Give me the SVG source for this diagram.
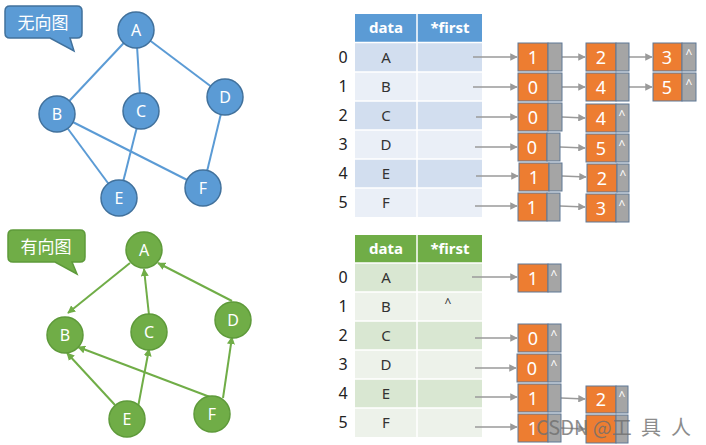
<svg xmlns="http://www.w3.org/2000/svg" width="706" height="445" viewBox="0 0 706 445">
<style>
text{font-family:"Noto Sans","Open Sans","Noto Sans CJK SC",sans-serif}
.bc{fill:#5B9BD5;stroke:#41719C;stroke-width:1.5}
.gc{fill:#70AD47;stroke:#5E9A3A;stroke-width:1.5}
.nl{fill:#fff;font-size:16px;text-anchor:middle}
.cl{fill:#fff;font-size:17px;text-anchor:middle;font-family:"Noto Sans CJK SC",sans-serif}
.be{stroke:#5B9BD5;stroke-width:2;fill:none}
.ge{stroke:#70AD47;stroke-width:2;fill:none}
.th{fill:#fff;font-size:15px;font-weight:bold;text-anchor:middle}
.td{fill:#333;font-size:15px;text-anchor:middle}
.ix{fill:#222;font-size:16px;text-anchor:middle}
.o{fill:#ED7D31;stroke:#5F7896;stroke-width:1}
.g{fill:#A5A5A5;stroke:#5F7896;stroke-width:1}
.d{fill:#fff;font-size:18px;text-anchor:middle}
.c{fill:#fff;font-size:12px;text-anchor:middle}
.pa{stroke:#9A9A9A;stroke-width:1.5;fill:none}
.wm{fill:#707070;opacity:0.8;font-size:20px;font-family:"Noto Sans CJK SC",sans-serif}
</style>
<defs>
<marker id="ga" viewBox="0 0 10 10" refX="9" refY="5" markerWidth="4" markerHeight="4" orient="auto" markerUnits="strokeWidth"><path d="M0,0 L10,5 L0,10 z" fill="#70AD47"/></marker>
<marker id="pa" viewBox="0 0 10 10" refX="9" refY="5" markerWidth="5" markerHeight="5" orient="auto" markerUnits="strokeWidth"><path d="M0,0 L10,5 L0,10 z" fill="#9A9A9A"/></marker>
</defs>
<rect width="706" height="445" fill="#fff"/>

<!-- Undirected graph -->
<g id="callout-undirected">
<path class="bc" d="M10,6 H77 Q82,6 82,11 V33 Q82,38 77,38 H70 L74,51 L50,38 H10 Q5,38 5,33 V11 Q5,6 10,6 Z"/>
<text class="cl" x="43" y="29">无向图</text>
</g>
<g id="undirected-edges">
<line class="be" x1="136" y1="30" x2="57" y2="114"/>
<line class="be" x1="136" y1="30" x2="141" y2="111"/>
<line class="be" x1="136" y1="30" x2="225" y2="97"/>
<line class="be" x1="57" y1="114" x2="119" y2="198"/>
<line class="be" x1="57" y1="114" x2="203" y2="188"/>
<line class="be" x1="141" y1="111" x2="119" y2="198"/>
<line class="be" x1="225" y1="97" x2="203" y2="188"/>
</g>
<g id="uA"><circle class="bc" cx="136" cy="30" r="18"/><text class="nl" x="136" y="36">A</text></g>
<g id="uB"><circle class="bc" cx="57" cy="114" r="18"/><text class="nl" x="57" y="120">B</text></g>
<g id="uC"><circle class="bc" cx="141" cy="111" r="18"/><text class="nl" x="141" y="117">C</text></g>
<g id="uD"><circle class="bc" cx="225" cy="97" r="18"/><text class="nl" x="225" y="103">D</text></g>
<g id="uE"><circle class="bc" cx="119" cy="198" r="18"/><text class="nl" x="119" y="204">E</text></g>
<g id="uF"><circle class="bc" cx="203" cy="188" r="18"/><text class="nl" x="203" y="194">F</text></g>

<!-- Directed graph -->
<g id="callout-directed">
<path class="gc" d="M13,230 H80 Q85,230 85,235 V257 Q85,262 80,262 H72 L77,274 L55,262 H13 Q8,262 8,257 V235 Q8,230 13,230 Z"/>
<text class="cl" x="46" y="253">有向图</text>
</g>
<g id="directed-edges">
<line class="ge" x1="130" y1="263" x2="68" y2="313" marker-end="url(#ga)"/>
<line class="ge" x1="149" y1="315" x2="144" y2="269" marker-end="url(#ga)"/>
<line class="ge" x1="232" y1="301" x2="158" y2="263" marker-end="url(#ga)"/>
<line class="ge" x1="115" y1="405" x2="67" y2="353" marker-end="url(#ga)"/>
<line class="ge" x1="138" y1="407" x2="149" y2="349" marker-end="url(#ga)"/>
<line class="ge" x1="210" y1="397" x2="78" y2="347" marker-end="url(#ga)"/>
<line class="ge" x1="223" y1="398" x2="232" y2="337" marker-end="url(#ga)"/>
</g>
<g id="dA"><circle class="gc" cx="144" cy="250" r="18"/><text class="nl" x="144" y="256">A</text></g>
<g id="dB"><circle class="gc" cx="65" cy="335" r="18"/><text class="nl" x="65" y="341">B</text></g>
<g id="dC"><circle class="gc" cx="149" cy="332" r="18"/><text class="nl" x="149" y="338">C</text></g>
<g id="dD"><circle class="gc" cx="233" cy="320" r="18"/><text class="nl" x="233" y="326">D</text></g>
<g id="dE"><circle class="gc" cx="127" cy="419" r="18"/><text class="nl" x="127" y="425">E</text></g>
<g id="dF"><circle class="gc" cx="212" cy="414" r="18"/><text class="nl" x="212" y="420">F</text></g>

<!-- Top table -->
<g id="table-undirected">
<rect x="355" y="14" width="127" height="28" fill="#5B9BD5"/>
<rect x="355" y="43" width="127" height="29" fill="#D2DEEF"/>
<rect x="355" y="72" width="127" height="29" fill="#EAEFF7"/>
<rect x="355" y="101" width="127" height="29" fill="#D2DEEF"/>
<rect x="355" y="130" width="127" height="29" fill="#EAEFF7"/>
<rect x="355" y="159" width="127" height="29" fill="#D2DEEF"/>
<rect x="355" y="188" width="127" height="29" fill="#EAEFF7"/>
<g stroke="#fff" stroke-width="1.5">
<line x1="417" y1="14" x2="417" y2="217"/>
<line x1="355" y1="42.5" x2="482" y2="42.5"/>
<line x1="355" y1="72" x2="482" y2="72"/>
<line x1="355" y1="101" x2="482" y2="101"/>
<line x1="355" y1="130" x2="482" y2="130"/>
<line x1="355" y1="159" x2="482" y2="159"/>
<line x1="355" y1="188" x2="482" y2="188"/>
</g>
<text class="th" x="386" y="33">data</text>
<text class="th" x="450" y="33">*first</text>
<text class="td" x="386" y="63">A</text>
<text class="td" x="386" y="92">B</text>
<text class="td" x="386" y="121">C</text>
<text class="td" x="386" y="150">D</text>
<text class="td" x="386" y="179">E</text>
<text class="td" x="386" y="208">F</text>
<text class="ix" x="343" y="63">0</text>
<text class="ix" x="343" y="92">1</text>
<text class="ix" x="343" y="121">2</text>
<text class="ix" x="343" y="150">3</text>
<text class="ix" x="343" y="179">4</text>
<text class="ix" x="343" y="208">5</text>
</g>

<!-- Bottom table -->
<g id="table-directed">
<rect x="355" y="235" width="127" height="28" fill="#70AD47"/>
<rect x="355" y="263" width="127" height="29" fill="#D9E7D2"/>
<rect x="355" y="292" width="127" height="29" fill="#EDF2EA"/>
<rect x="355" y="321" width="127" height="29" fill="#D9E7D2"/>
<rect x="355" y="350" width="127" height="29" fill="#EDF2EA"/>
<rect x="355" y="379" width="127" height="29" fill="#D9E7D2"/>
<rect x="355" y="408" width="127" height="29" fill="#EDF2EA"/>
<g stroke="#fff" stroke-width="1.5">
<line x1="417" y1="235" x2="417" y2="437"/>
<line x1="355" y1="263" x2="482" y2="263"/>
<line x1="355" y1="292" x2="482" y2="292"/>
<line x1="355" y1="321" x2="482" y2="321"/>
<line x1="355" y1="350" x2="482" y2="350"/>
<line x1="355" y1="379" x2="482" y2="379"/>
<line x1="355" y1="408" x2="482" y2="408"/>
</g>
<text class="th" x="386" y="254">data</text>
<text class="th" x="450" y="254">*first</text>
<text class="td" x="386" y="283">A</text>
<text class="td" x="386" y="312">B</text>
<text class="td" x="386" y="341">C</text>
<text class="td" x="386" y="370">D</text>
<text class="td" x="386" y="399">E</text>
<text class="td" x="386" y="428">F</text>
<text x="448" y="307" style="fill:#333;font-size:12px;text-anchor:middle">^</text>
<text class="ix" x="343" y="283">0</text>
<text class="ix" x="343" y="312">1</text>
<text class="ix" x="343" y="341">2</text>
<text class="ix" x="343" y="370">3</text>
<text class="ix" x="343" y="399">4</text>
<text class="ix" x="343" y="428">5</text>
</g>

<!-- Pointer arrows -->
<g id="pointers">
<line class="pa" x1="473" y1="57" x2="517" y2="57" marker-end="url(#pa)"/>
<line class="pa" x1="562" y1="57" x2="585" y2="57" marker-end="url(#pa)"/>
<line class="pa" x1="629" y1="57" x2="652" y2="57" marker-end="url(#pa)"/>
<line class="pa" x1="473" y1="87" x2="517" y2="87" marker-end="url(#pa)"/>
<line class="pa" x1="562" y1="87" x2="585" y2="87" marker-end="url(#pa)"/>
<line class="pa" x1="629" y1="87" x2="652" y2="87" marker-end="url(#pa)"/>
<line class="pa" x1="476" y1="117" x2="517" y2="117" marker-end="url(#pa)"/>
<line class="pa" x1="562" y1="117" x2="585" y2="118" marker-end="url(#pa)"/>
<line class="pa" x1="475" y1="147" x2="517" y2="147" marker-end="url(#pa)"/>
<line class="pa" x1="560" y1="147" x2="585" y2="148" marker-end="url(#pa)"/>
<line class="pa" x1="476" y1="176" x2="518" y2="176" marker-end="url(#pa)"/>
<line class="pa" x1="562" y1="176" x2="586" y2="177" marker-end="url(#pa)"/>
<line class="pa" x1="475" y1="206" x2="517" y2="206" marker-end="url(#pa)"/>
<line class="pa" x1="560" y1="206" x2="585" y2="207" marker-end="url(#pa)"/>
<line class="pa" x1="472" y1="277" x2="517" y2="277" marker-end="url(#pa)"/>
<line class="pa" x1="475" y1="338" x2="517" y2="338" marker-end="url(#pa)"/>
<line class="pa" x1="475" y1="368" x2="516" y2="368" marker-end="url(#pa)"/>
<line class="pa" x1="475" y1="397" x2="517" y2="397" marker-end="url(#pa)"/>
<line class="pa" x1="561" y1="398" x2="585" y2="399" marker-end="url(#pa)"/>
<line class="pa" x1="475" y1="427" x2="517" y2="427" marker-end="url(#pa)"/>
<line class="pa" x1="561" y1="428" x2="585" y2="429" marker-end="url(#pa)"/>
</g>

<!-- List nodes: undirected -->
<g id="u0-1"><rect class="o" x="518" y="43" width="30" height="28"/><rect class="g" x="548" y="43" width="14" height="28"/><text class="d" x="533" y="64">1</text></g>
<g id="u0-2"><rect class="o" x="586" y="43" width="30" height="28"/><rect class="g" x="616" y="43" width="13" height="28"/><text class="d" x="601" y="64">2</text></g>
<g id="u0-3"><rect class="o" x="653" y="43" width="29" height="28"/><rect class="g" x="682" y="43" width="14" height="28"/><text class="d" x="667" y="64">3</text><text class="c" x="689" y="58">^</text></g>
<g id="u1-0"><rect class="o" x="518" y="73" width="30" height="28"/><rect class="g" x="548" y="73" width="14" height="28"/><text class="d" x="533" y="94">0</text></g>
<g id="u1-4"><rect class="o" x="586" y="73" width="30" height="28"/><rect class="g" x="616" y="73" width="13" height="28"/><text class="d" x="601" y="94">4</text></g>
<g id="u1-5"><rect class="o" x="653" y="73" width="29" height="28"/><rect class="g" x="682" y="73" width="14" height="28"/><text class="d" x="667" y="94">5</text><text class="c" x="689" y="88">^</text></g>
<g id="u2-0"><rect class="o" x="518" y="103" width="30" height="28"/><rect class="g" x="548" y="103" width="14" height="28"/><text class="d" x="533" y="124">0</text></g>
<g id="u2-4"><rect class="o" x="586" y="104" width="30" height="28"/><rect class="g" x="616" y="104" width="13" height="28"/><text class="d" x="601" y="125">4</text><text class="c" x="622" y="119">^</text></g>
<g id="u3-0"><rect class="o" x="518" y="133" width="29" height="28"/><rect class="g" x="547" y="133" width="13" height="28"/><text class="d" x="532" y="154">0</text></g>
<g id="u3-5"><rect class="o" x="586" y="134" width="30" height="28"/><rect class="g" x="616" y="134" width="13" height="28"/><text class="d" x="601" y="155">5</text><text class="c" x="622" y="149">^</text></g>
<g id="u4-1"><rect class="o" x="519" y="163" width="30" height="28"/><rect class="g" x="549" y="163" width="13" height="28"/><text class="d" x="534" y="184">1</text></g>
<g id="u4-2"><rect class="o" x="587" y="164" width="30" height="28"/><rect class="g" x="617" y="164" width="12" height="28"/><text class="d" x="602" y="185">2</text><text class="c" x="623" y="179">^</text></g>
<g id="u5-1"><rect class="o" x="518" y="193" width="29" height="28"/><rect class="g" x="547" y="193" width="13" height="28"/><text class="d" x="532" y="214">1</text></g>
<g id="u5-3"><rect class="o" x="586" y="194" width="30" height="28"/><rect class="g" x="616" y="194" width="13" height="28"/><text class="d" x="601" y="215">3</text><text class="c" x="622" y="209">^</text></g>

<!-- List nodes: directed -->
<g id="d0-1"><rect class="o" x="518" y="264" width="30" height="28"/><rect class="g" x="548" y="264" width="13" height="28"/><text class="d" x="533" y="285">1</text><text class="c" x="554" y="279">^</text></g>
<g id="d2-0"><rect class="o" x="518" y="324" width="30" height="28"/><rect class="g" x="548" y="324" width="13" height="28"/><text class="d" x="533" y="345">0</text><text class="c" x="554" y="339">^</text></g>
<g id="d3-0"><rect class="o" x="517" y="354" width="31" height="28"/><rect class="g" x="548" y="354" width="13" height="28"/><text class="d" x="532" y="375">0</text><text class="c" x="554" y="369">^</text></g>
<g id="d4-1"><rect class="o" x="518" y="384" width="30" height="28"/><rect class="g" x="548" y="384" width="13" height="28"/><text class="d" x="533" y="405">1</text></g>
<g id="d4-2"><rect class="o" x="586" y="386" width="30" height="27"/><rect class="g" x="616" y="386" width="12" height="27"/><text class="d" x="601" y="406">2</text><text class="c" x="622" y="400">^</text></g>
<g id="d5-1"><rect class="o" x="518" y="414" width="30" height="28"/><rect class="g" x="548" y="414" width="13" height="28"/><text class="d" x="533" y="435">1</text></g>
<g id="d5-3"><rect class="o" x="586" y="415" width="30" height="28"/><rect class="g" x="616" y="415" width="12" height="28"/></g>

<!-- Watermark -->
<g id="watermark">
<text class="wm" x="536" y="435">CSDN @工</text>
<text class="wm" x="641" y="435">具</text>
<text class="wm" x="671" y="435">人</text>
</g>
</svg>
